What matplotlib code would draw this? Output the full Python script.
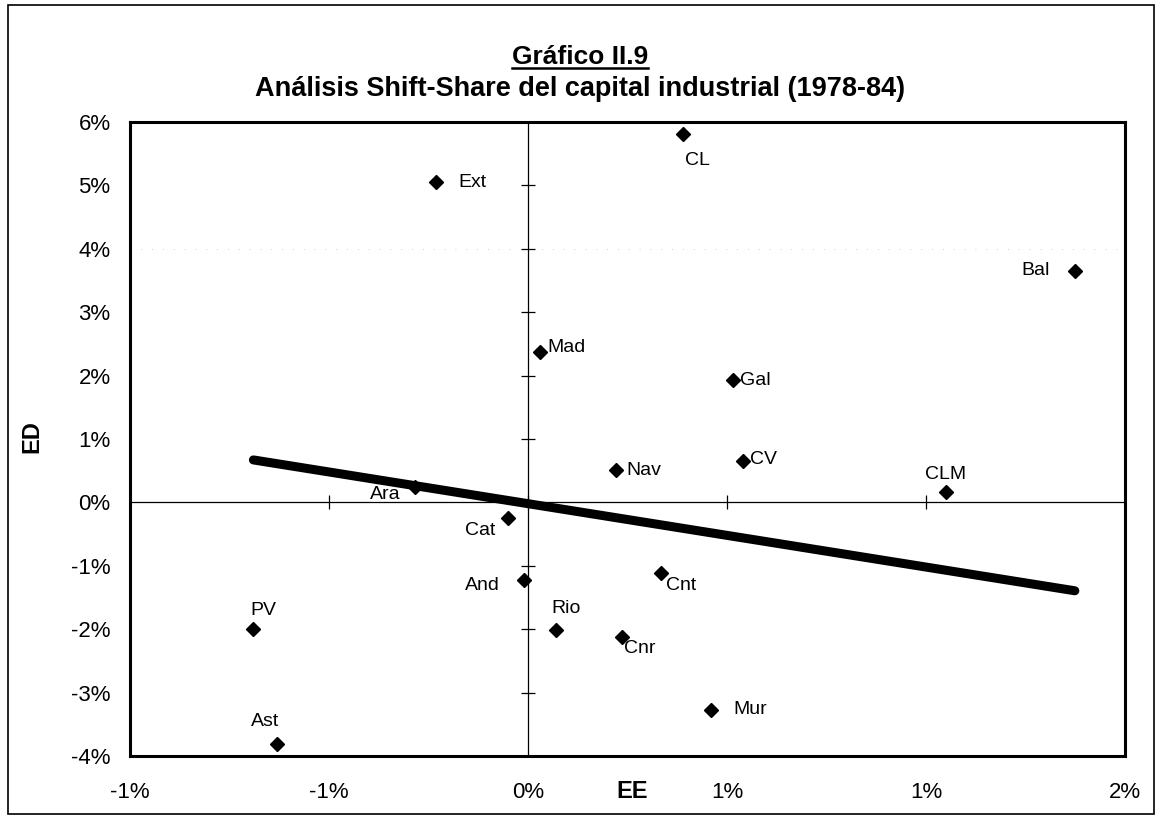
import numpy as np
import matplotlib
matplotlib.use("Agg")
import matplotlib.pyplot as plt
from matplotlib.patches import Rectangle
from matplotlib.lines import Line2D

plt.rcParams['font.family'] = ['Liberation Sans', 'DejaVu Sans']

# Data (% values)
regions = ["Ext", "CL", "Bal", "Mad", "Gal", "Nav", "CV", "CLM", "Ara",
           "Cat", "And", "PV", "Ast", "Cnt", "Rio", "Cnr", "Mur"]
ee = [-0.23, 0.39, 1.374, 0.03, 0.515, 0.22, 0.54, 1.05, -0.285,
      -0.05, -0.01, -0.69, -0.63, 0.335, 0.07, 0.235, 0.46]
ed = [5.05, 5.81, 3.65, 2.37, 1.93, 0.51, 0.66, 0.16, 0.25,
      -0.25, -1.23, -1.99, -3.81, -1.12, -2.02, -2.13, -3.27]
line_const = -0.02  # ED = line_const - EE

x_ticks = [-1.0, -0.5, 0.0, 0.5, 1.0, 1.5]
x_tick_labels = ["-1%", "-1%", "0%", "1%", "1%", "2%"]
y_ticks = [-4, -3, -2, -1, 0, 1, 2, 3, 4, 5, 6]
y_tick_labels = ["%d%%" % v for v in y_ticks]

# label placement (offset in points, ha)
label_pos = {
    "Ext": ((16, 0), "left"), "CL": ((10, -19), "center"),
    "Bal": ((-18, 0), "right"), "Mad": ((5, 3), "left"),
    "Gal": ((5, 0), "left"), "Nav": ((8, 0), "left"),
    "CV": ((5, 1), "left"), "CLM": ((0, 13), "center"),
    "Ara": ((-21, -6), "center"), "Cat": ((-20, -9), "center"),
    "And": ((-30, -4), "center"), "PV": ((7, 13), "center"),
    "Ast": ((-9, 16), "center"), "Cnt": ((14, -9), "center"),
    "Rio": ((7, 16), "center"), "Cnr": ((13, -8), "center"),
    "Mur": ((16, 0), "left"),
}

fig = plt.figure(figsize=(11.6, 8.18), dpi=100)
ax = fig.add_axes([130/1160, 1-756/818, (1125-130)/1160, (756-122)/818])

ax.set_xlim(x_ticks[0], x_ticks[-1])
ax.set_ylim(y_ticks[0], y_ticks[-1])

# zero axes with cross ticks
ax.axhline(0, color="black", lw=0.9, zorder=1)
ax.axvline(0, color="black", lw=0.9, zorder=1)
ax.axhline(4, color="0.75", lw=0.6, ls=(0, (1, 12)), zorder=0)
ax.plot(x_ticks, np.zeros(len(x_ticks)), ls="none", marker="|", ms=10,
        mew=0.9, color="black", zorder=1)
ax.plot(np.zeros(len(y_ticks)), y_ticks, ls="none", marker="_", ms=10,
        mew=0.9, color="black", zorder=1)

# trend line
lx = np.array([min(ee), max(ee)])
ax.plot(lx, line_const - lx, color="black", lw=6.5, solid_capstyle="round", zorder=2)

ax.plot(ee, ed, ls="none", marker="D", ms=7.5, color="black", zorder=3)
for name, x, y in zip(regions, ee, ed):
    (dx, dy), ha = label_pos[name]
    ax.annotate(name, (x, y), xytext=(dx, dy), textcoords="offset points",
                ha=ha, va="center", fontsize=14, zorder=4)

ax.set_xticks(x_ticks)
ax.set_xticklabels(x_tick_labels)
ax.set_yticks(y_ticks)
ax.set_yticklabels(y_tick_labels)
ax.tick_params(axis="x", length=0, pad=19, labelsize=16)
ax.tick_params(axis="y", length=0, pad=14, labelsize=16)
for s in ax.spines.values():
    s.set_linewidth(2.2)

fig.text(632/1160, 1-792/818, "EE", ha="center", va="center",
         fontsize=17, fontweight="bold")
fig.text(32/1160, 1-437/818, "ED", ha="center", va="center", rotation=90,
         fontsize=17, fontweight="bold")

t1 = fig.text(0.5, 1-57/818, "Gráfico II.9", ha="center", va="center",
              fontsize=19, fontweight="bold")
fig.text(0.5, 1-89/818, "Análisis Shift-Share del capital industrial (1978-84)",
         ha="center", va="center", fontsize=19.5, fontweight="bold")

# underline for the heading
fig.canvas.draw()
bb = t1.get_window_extent().transformed(fig.transFigure.inverted())
fig.add_artist(Line2D([bb.x0, bb.x1], [bb.y0 + 0.001, bb.y0 + 0.001],
                      transform=fig.transFigure, color="black", lw=1.8))

# outer frame
fig.add_artist(Rectangle((8/1160, 1-814/818), (1154-8)/1160, (814-5)/818,
                         transform=fig.transFigure, fill=False,
                         edgecolor="black", lw=1.2))

fig.savefig("out.png", dpi=100)
